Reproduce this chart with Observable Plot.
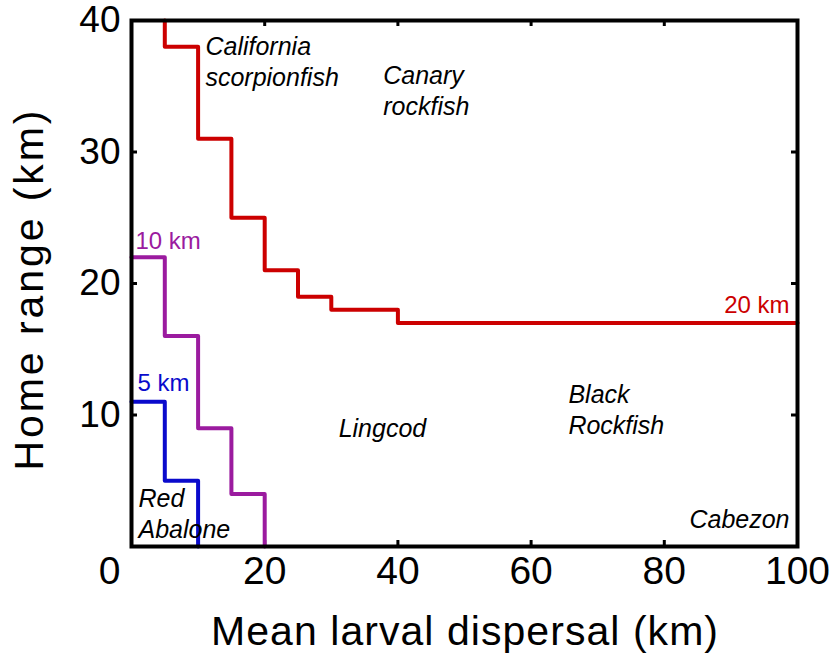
<!DOCTYPE html>
<html>
<head>
<meta charset="utf-8">
<script src="https://cdn.jsdelivr.net/npm/d3@7"></script>
<script src="https://cdn.jsdelivr.net/npm/@observablehq/plot@0.6"></script>
<style>
  html, body { margin: 0; padding: 0; background: #fff; }
</style>
</head>
<body>
<div id="chart"></div>
<script>
// ---- data ----
const redX = [5, 10, 15, 20, 25, 30, 40, 100];
const redY = [40, 38, 31, 25, 21, 19, 18, 17];
const purpleX = [0, 5, 10, 15, 20];
const purpleY = [22, 16, 9, 4, 0];
const blueX = [0, 5, 10];
const blueY = [11, 5, 0];

const lineLabels = ["20 km", "10 km", "5 km"];
const lineLabelX = [98.8, 0.6, 0.9];
const lineLabelY = [17.72, 22.66, 11.86];
const lineColors = ["#cc0000", "#9b1b9f", "#0a0acc"];

const speciesNames = ["California\nscorpionfish", "Canary\nrockfish", "Lingcod", "Black\nRockfish", "Cabezon", "Red\nAbalone"];
const speciesX = [11.1, 37.8, 31.1, 65.6, 98.8, 1.05];
const speciesY = [35.05, 32.85, 8.29, 8.52, 1.37, 0.68];
const speciesAnchor = ["start", "start", "start", "start", "end", "start"];

const xTickLabels = [20, 40, 60, 80, 100];
const yTickLabels = [10, 20, 30, 40];
const xInnerTicks = [20, 40, 60, 80];
const yInnerTicks = [10, 20, 30];

const xTitle = "Mean larval dispersal (km)";
const yTitle = "Home range (km)";

// ---- tables ----
const toPts = (xs, ys) => xs.map((x, i) => ({x, y: ys[i]}));
const red = toPts(redX, redY);
const purple = toPts(purpleX, purpleY);
const blue = toPts(blueX, blueY);
const lbls = lineLabels.map((t, i) => ({t, x: lineLabelX[i], y: lineLabelY[i], c: lineColors[i]}));
const species = speciesNames.map((t, i) => ({t, x: speciesX[i], y: speciesY[i], a: speciesAnchor[i]}));

const W = 837, H = 655, mT = 20, mR = 40, mB = 109, mL = 131;
const plotH = H - mT - mB, plotW = W - mL - mR;
const tickLen = 6;

const chart = Plot.plot({
  width: W, height: H,
  marginTop: mT, marginRight: mR, marginBottom: mB, marginLeft: mL,
  x: {domain: [0, 100], label: null},
  y: {domain: [0, 40], label: null},
  style: {fontFamily: "'Liberation Sans', Arial, Helvetica, sans-serif", background: "white", color: "black"},
  marks: [
    // inward ticks
    Plot.ruleX(xInnerTicks, {x: d => d, insetTop: plotH - tickLen, stroke: "black", strokeWidth: 3}),
    Plot.ruleX(xInnerTicks, {x: d => d, insetBottom: plotH - tickLen, stroke: "black", strokeWidth: 3}),
    Plot.ruleY(yInnerTicks, {y: d => d, insetRight: plotW - tickLen, stroke: "black", strokeWidth: 3}),
    Plot.ruleY(yInnerTicks, {y: d => d, insetLeft: plotW - tickLen, stroke: "black", strokeWidth: 3}),
    // tick labels
    Plot.axisX(xTickLabels, {tickSize: 0, tickPadding: 10, fontSize: 39, label: null}),
    Plot.axisX([0], {tickSize: 0, tickPadding: 10, dx: -22, fontSize: 39, label: null}),
    Plot.axisY(yTickLabels, {tickSize: 0, tickPadding: 11, fontSize: 37, label: null}),
    // step lines
    Plot.line(red, {x: "x", y: "y", curve: "step-before", stroke: lineColors[0], strokeWidth: 4}),
    Plot.line(purple, {x: "x", y: "y", curve: "step-after", stroke: lineColors[1], strokeWidth: 4}),
    Plot.line(blue, {x: "x", y: "y", curve: "step-after", stroke: lineColors[2], strokeWidth: 4}),
    // line labels
    Plot.text(lbls.filter(d => d.x > 50), {x: "x", y: "y", text: "t", fill: "c", textAnchor: "end", lineAnchor: "bottom", fontSize: 24}),
    Plot.text(lbls.filter(d => d.x <= 50), {x: "x", y: "y", text: "t", fill: "c", textAnchor: "start", lineAnchor: "bottom", fontSize: 24}),
    // species labels
    Plot.text(species.filter(d => d.a === "start"), {x: "x", y: "y", text: "t", textAnchor: "start", lineAnchor: "bottom", lineHeight: 1.24, fontSize: 25, fontStyle: "italic", fill: "black"}),
    Plot.text(species.filter(d => d.a === "end"), {x: "x", y: "y", text: "t", textAnchor: "end", lineAnchor: "bottom", lineHeight: 1.24, fontSize: 25, fontStyle: "italic", fill: "black"}),
    // axis titles
    Plot.text([xTitle], {text: d => d, frameAnchor: "bottom", textAnchor: "middle", lineAnchor: "bottom", dy: 98, fontSize: 41, fill: "black"}),
    Plot.text([yTitle], {text: d => d, frameAnchor: "left", textAnchor: "middle", rotate: -90, lineAnchor: "bottom", dx: -89, dy: 7, fontSize: 41, fill: "black"}),
    // frame
    Plot.frame({stroke: "black", strokeWidth: 4})
  ]
});

document.getElementById("chart").appendChild(chart);

// stretch titles to match the reference widths
d3.select(chart).selectAll("text")
  .filter(function() { return this.textContent === xTitle; })
  .attr("textLength", 507).attr("lengthAdjust", "spacing");
d3.select(chart).selectAll("text")
  .filter(function() { return this.textContent === yTitle; })
  .attr("textLength", 360).attr("lengthAdjust", "spacing");
</script>
</body>
</html>
